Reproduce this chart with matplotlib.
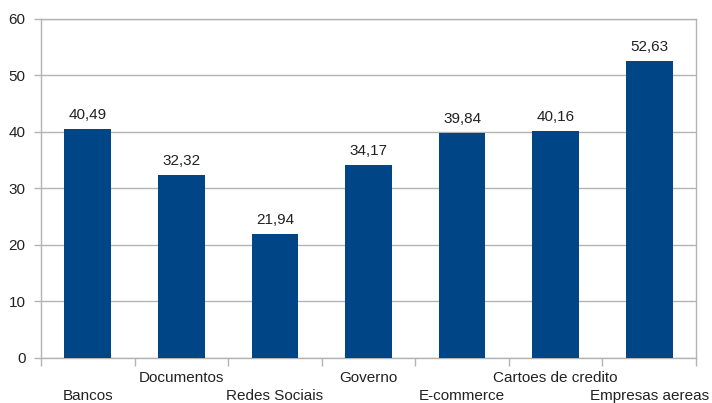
import numpy as np
import matplotlib.pyplot as plt

categorias = ['Bancos', 'Documentos', 'Redes Sociais', 'Governo', 'E-commerce',
              'Cartoes de credito', 'Empresas aereas']
valores = [40.49, 32.32, 21.94, 34.17, 39.84, 40.16, 52.63]
y_ticks = [0, 10, 20, 30, 40, 50, 60]

plt.rcParams['font.family'] = ['Liberation Sans', 'DejaVu Sans']
plt.rcParams['font.size'] = 11

cinza = '#b3b3b3'
azul = '#004586'

fig = plt.figure(figsize=(7.12, 4.03), dpi=100)
ax = fig.add_axes([0.0576, 0.1117, 0.9199, 0.8412])

x = np.arange(len(categorias))
barras = ax.bar(x, valores, width=0.5, color=azul, zorder=3)

# rotulos com virgula decimal
rotulos = [f'{v:.2f}'.replace('.', ',') for v in valores]
ax.bar_label(barras, labels=rotulos, padding=5, color='#222222')

ax.set_xlim(-0.5, len(categorias) - 0.5)
ax.set_ylim(0, 60)
ax.set_yticks(y_ticks)
ax.yaxis.grid(True, color=cinza, linewidth=1, zorder=0)
ax.tick_params(axis='y', length=5, color=cinza, width=1, pad=6, labelcolor='#222222')

# divisorias entre categorias
ax.set_xticks(np.arange(len(categorias) + 1) - 0.5, minor=True)
ax.tick_params(axis='x', which='minor', length=6, color=cinza, width=1)
ax.set_xticks(x, categorias)
ax.tick_params(axis='x', which='major', length=0, labelcolor='#222222')
for i, t in enumerate(ax.xaxis.get_major_ticks()):
    t.set_pad(22 if i % 2 == 0 else 9.5)

for s in ax.spines.values():
    s.set_color(cinza)
    s.set_linewidth(1)

fig.savefig('out.png', dpi=100)
